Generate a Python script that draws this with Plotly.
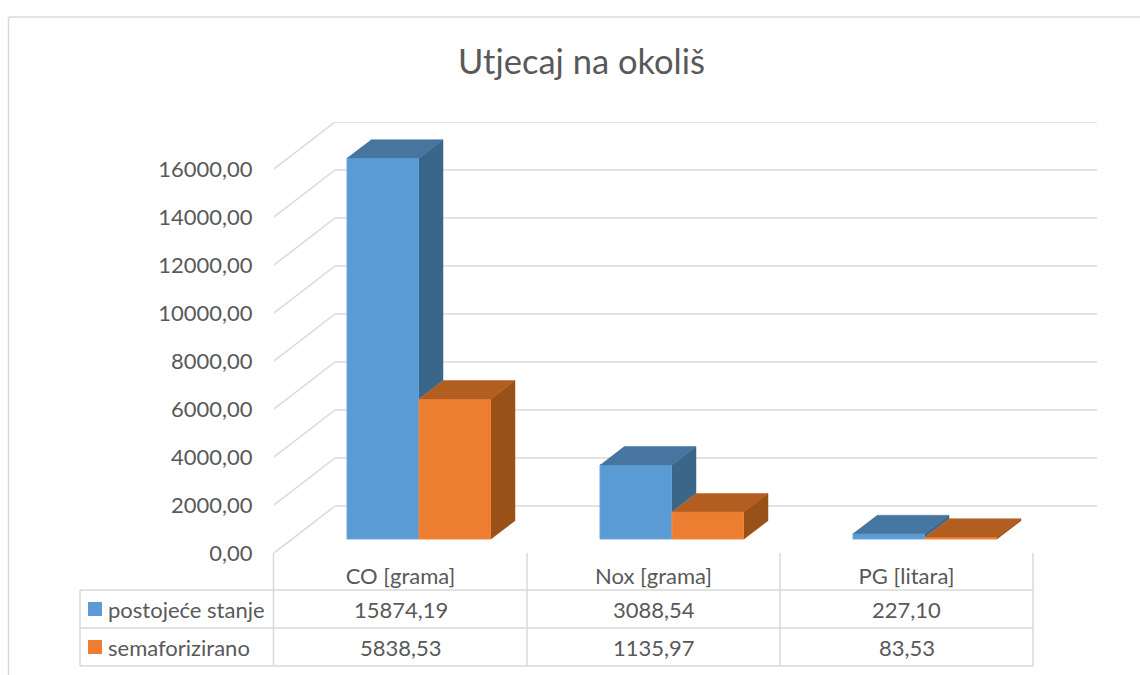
import plotly.graph_objects as go

# ---- data ----
categories = ["CO [grama]", "Nox [grama]", "PG [litara]"]
postojece = [15874.19, 3088.54, 227.10]
semaforizirano = [5838.53, 1135.97, 83.53]
postojece_labels = ["15874,19", "3088,54", "227,10"]
semaforizirano_labels = ["5838,53", "1135,97", "83,53"]
series_names = ["postojeće stanje", "semaforizirano"]
y_ticks = [0, 2000, 4000, 6000, 8000, 10000, 12000, 14000, 16000]
y_tick_labels = ["0,00", "2000,00", "4000,00", "6000,00", "8000,00",
                 "10000,00", "12000,00", "14000,00", "16000,00"]
title_text = "Utjecaj na okoliš"

# ---- style ----
W, H = 1140, 675
FONT = "Lato"
TXT = "#595959"
GRID = "#d9d9d9"
BLUE, BLUE_TOP, BLUE_SIDE = "#5b9bd5", "#4675a0", "#3a6689"
ORANGE, ORANGE_TOP, ORANGE_SIDE = "#ed7d31", "#b25e20", "#9a5119"

# ---- projection: axes are scaled in pixels-per-unit ----
CAT_PX = 253.0              # pixels of one category
VAL_PER_PX = 2000 / 48.0    # value units per pixel
X0, Y0 = 274, 553           # front-left corner of the floor
XR, YT = 1097, 122          # far right / top of back wall
def dx(px): return px / CAT_PX
def dv(px): return px * VAL_PER_PX

WALL_X, WALL_Y = dx(61), dv(47)
DEPTH_X, DEPTH_Y = dx(24), dv(18.3)
BASE = dv(14)
BAR_W = dx(72)
OFF_BLUE = dx(73) - 0.5
OFF_ORANGE = OFF_BLUE + BAR_W

centers = [i + 0.5 for i in range(len(categories))]
x_right = (XR - X0) / CAT_PX
fig = go.Figure()

# front faces as real bars
for name, vals, off, col, edge in [
    (series_names[0], postojece, OFF_BLUE, BLUE, "#6ea8dc"),
    (series_names[1], semaforizirano, OFF_ORANGE, ORANGE, "#f08a45"),
]:
    fig.add_trace(go.Bar(x=centers, y=vals, base=BASE, width=BAR_W, offset=off,
                         name=name, marker=dict(color=col, line=dict(color=edge, width=1)),
                         showlegend=False))

def poly(xs, ys, color):
    fig.add_trace(go.Scatter(x=xs, y=ys, mode="lines", fill="toself", fillcolor=color,
                             line=dict(color=color, width=0.5), hoverinfo="skip",
                             showlegend=False, cliponaxis=False))

for c, a, b in zip(centers, postojece, semaforizirano):
    l = c + OFF_BLUE
    m = l + BAR_W
    r = m + BAR_W
    ta = BASE + a
    tb = BASE + b
    # blue side, visible part above the orange bar
    poly([m, m + DEPTH_X, m + DEPTH_X, m], [ta, ta + DEPTH_Y, tb + DEPTH_Y, tb], BLUE_SIDE)
    # blue top
    poly([l, m, m + DEPTH_X, l + DEPTH_X], [ta, ta, ta + DEPTH_Y, ta + DEPTH_Y], BLUE_TOP)
    # orange side
    poly([r, r + DEPTH_X, r + DEPTH_X, r], [tb, tb + DEPTH_Y, BASE + DEPTH_Y, BASE], ORANGE_SIDE)
    # orange top
    poly([m, r, r + DEPTH_X, m + DEPTH_X], [tb, tb, tb + DEPTH_Y, tb + DEPTH_Y], ORANGE_TOP)

def px(x): return x / W
def py(y): return (H - y) / H

def line(x0, y0, x1, y1, w=1.5):
    return dict(type="line", xref="paper", yref="paper", x0=px(x0), y0=py(y0), x1=px(x1), y1=py(y1),
                line=dict(color=GRID, width=w), layer="below")

shapes = [
    line(8.5, 17, W, 17), line(8.5, 17, 8.5, H),
    line(80, 590, 1033, 590), line(80, 628, 1033, 628), line(80, 666, 1033, 666),
    line(80, 590, 80, 666),
]
for xv in (X0 - 0.5, 527, 780, 1033):
    shapes.append(line(xv, Y0, xv, 666))
shapes.append(dict(type="rect", xref="paper", yref="paper", x0=px(88), x1=px(102), y0=py(616), y1=py(602),
                   fillcolor=BLUE, line=dict(width=0)))
shapes.append(dict(type="rect", xref="paper", yref="paper", x0=px(88), x1=px(102), y0=py(654), y1=py(640),
                   fillcolor=ORANGE, line=dict(width=0)))

# wall gridlines, on the axes' scales, under the bars
for v in y_ticks:
    for xa, ya, xb, yb in [(0, v, WALL_X, v + WALL_Y), (WALL_X, v + WALL_Y, x_right, v + WALL_Y)]:
        shapes.append(dict(type="line", xref="x", yref="y", x0=xa, y0=ya, x1=xb, y1=yb,
                           line=dict(color=GRID, width=1.5), layer="below"))

ann = []
def text(x, y, s, xref="x", anchor="center", size=22):
    ann.append(dict(x=x, y=py(y), xref=xref, yref="paper", text=s, showarrow=False, xanchor=anchor,
                    yanchor="middle", font=dict(family=FONT, size=size, color=TXT)))
for c, s1, s2 in zip(centers, postojece_labels, semaforizirano_labels):
    text(c, 609, s1)
    text(c, 647.5, s2)
text(px(105.5), 609, series_names[0], xref="paper", anchor="left")
text(px(105.5), 647, series_names[1], xref="paper", anchor="left")

fig.update_layout(
    width=W, height=H, margin=dict(l=0, r=0, t=0, b=0, pad=0, autoexpand=False),
    paper_bgcolor="white", plot_bgcolor="rgba(0,0,0,0)", barmode="overlay", showlegend=False,
    title=dict(text=title_text, x=581.5 / W, xanchor="center", y=py(62), yanchor="middle",
               font=dict(family=FONT, size=34.5, color=TXT)),
    xaxis=dict(domain=[px(X0), px(XR)], range=[0, x_right], tickmode="array", tickvals=centers,
               ticktext=categories, ticks="outside", ticklen=4, tickcolor="rgba(0,0,0,0)", tickwidth=1,
               showgrid=False, zeroline=False, showline=False,
               tickfont=dict(family=FONT, size=22, color=TXT)),
    yaxis=dict(domain=[py(Y0), py(YT)], range=[0, (Y0 - YT) * VAL_PER_PX], tickmode="array",
               tickvals=y_ticks, ticktext=y_tick_labels, ticks="outside", ticklen=16,
               tickcolor="rgba(0,0,0,0)", tickwidth=1, showgrid=False, zeroline=False, showline=False,
               tickfont=dict(family=FONT, size=22, color=TXT)),
    shapes=shapes, annotations=ann,
)
fig.write_html("out.html", post_script="document.body.style.margin='0';",
               config=dict(displayModeBar=False))
